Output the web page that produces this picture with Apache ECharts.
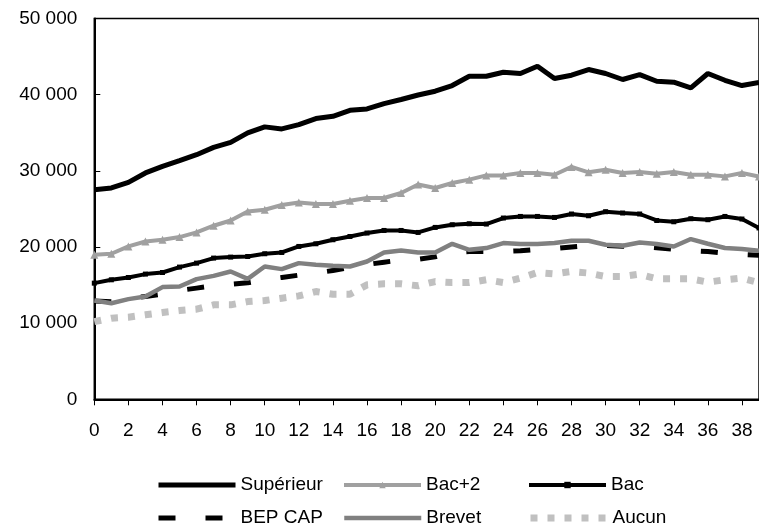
<!DOCTYPE html>
<html>
<head>
<meta charset="utf-8">
<script src="https://cdn.jsdelivr.net/npm/echarts@6/dist/echarts.min.js"></script>
<style>html,body{margin:0;padding:0;background:#fff;}#c{width:759px;height:531px;}</style>
</head>
<body>
<div id="c"></div>
<script>
var categories = ['0','1','2','3','4','5','6','7','8','9','10','11','12','13','14','15','16','17','18','19','20','21','22','23','24','25','26','27','28','29','30','31','32','33','34','35','36','37','38','39'];
var superieur = [27520,27750,28480,29720,30590,31340,32120,33080,33740,34980,35770,35500,36070,36860,37160,37950,38130,38830,39360,39950,40450,41200,42420,42420,42950,42780,43740,42120,42550,43300,42780,41990,42640,41760,41630,40890,42780,41890,41200,41600];
var bac2 = [18980,19110,20070,20720,20950,21300,21910,22790,23480,24670,24890,25510,25850,25640,25640,26080,26430,26430,27090,28200,27750,28400,28840,29400,29400,29720,29720,29490,30510,29800,30150,29720,29850,29630,29850,29490,29490,29270,29720,29250];
var bac = [15250,15690,15990,16440,16650,17360,17880,18540,18670,18750,19110,19280,20070,20420,20950,21380,21830,22170,22170,21910,22570,22920,23050,23010,23800,24010,24010,23880,24330,24100,24630,24460,24330,23480,23310,23710,23580,24010,23670,22500];
var bepcap = [12900,12800,13200,13500,13800,14300,14600,14900,15100,15300,15700,16000,16300,16600,16900,17300,17700,18000,18300,18400,18700,19300,19400,19400,19400,19500,19700,19800,20000,20200,20200,20100,20100,19900,19700,19500,19400,19200,19000,18900];
var brevet = [12970,12620,13150,13490,14730,14810,15780,16210,16780,15820,17440,17090,17880,17660,17530,17440,18090,19280,19540,19280,19280,20420,19630,19860,20510,20380,20380,20510,20820,20820,20290,20160,20590,20380,20070,21040,20420,19860,19720,19500];
var aucun = [10200,10650,10780,11090,11390,11650,11830,12400,12400,12830,12970,13280,13580,14150,13800,13800,15030,15160,15160,14900,15460,15330,15330,15690,15330,15910,16650,16470,16780,16570,16120,16120,16430,15820,15820,15820,15380,15690,15910,15300];
var yTicks = {min: 0, max: 50000, interval: 10000};

var FONT = 'Liberation Sans, Arial, sans-serif';
var chart = echarts.init(document.getElementById('c'), null, {renderer: 'canvas'});

function fmt(v){ return String(v).replace(/\B(?=(\d{3})+(?!\d))/g, ' '); }

function leg(name, left, top, lw, hideSymbol){
  var l = {
    data: [name], left: left, top: top, padding: 0, itemWidth: 77, itemHeight: 8,
    selectedMode: false,
    lineStyle: {width: lw},
    textStyle: {fontFamily: FONT, fontSize: 19, color: '#000', lineHeight: 20}
  };
  if (hideSymbol) l.itemStyle = {opacity: 0};
  return l;
}

var option = {
  animation: false,
  backgroundColor: '#fff',
  grid: {left: 94.3, top: 18.5, width: 668.5, height: 380.8, show: true, borderColor: '#000', borderWidth: 1.5, backgroundColor: 'transparent'},
  legend: [
    leg('Supérieur', 156, 475, 5, true), leg('Bac+2', 342, 475, 4, false), leg('Bac', 527, 475, 4, false),
    leg('BEP CAP', 156, 508, 5, true), leg('Brevet', 342, 508, 4.5, true), leg('Aucun', 527, 508, 7, true)
  ],
  xAxis: {
    type: 'category', data: categories, boundaryGap: false,
    axisLine: {lineStyle: {color: '#000', width: 2}},
    axisTick: {show: true, interval: 1, length: 6, lineStyle: {color: '#000', width: 1}},
    axisLabel: {interval: 1, color: '#000', fontFamily: FONT, fontSize: 19, margin: 22},
    splitLine: {show: false}
  },
  yAxis: {
    type: 'value', min: yTicks.min, max: yTicks.max, interval: yTicks.interval,
    axisLine: {show: true, lineStyle: {color: '#000', width: 2}},
    axisTick: {show: true, inside: true, length: 6, lineStyle: {color: '#000', width: 1}},
    axisLabel: {color: '#000', fontFamily: FONT, fontSize: 19, margin: 17, formatter: fmt},
    splitLine: {show: false}
  },
  series: [
    {name: 'BEP CAP', type: 'line', data: bepcap, symbol: 'none', z: 2,
     lineStyle: {color: '#000', width: 5, type: [17, 30]}, itemStyle: {color: '#000'}},
    {name: 'Aucun', type: 'line', data: aucun, symbol: 'none', z: 2,
     lineStyle: {color: '#c0c0c0', width: 7, type: [7, 10]}, itemStyle: {color: '#c0c0c0'}},
    {name: 'Brevet', type: 'line', data: brevet, symbol: 'none', z: 3,
     lineStyle: {color: '#808080', width: 4.5}, itemStyle: {color: '#808080'}},
    {name: 'Bac', type: 'line', data: bac, symbol: 'rect', symbolSize: 5, z: 3,
     lineStyle: {color: '#000', width: 4}, itemStyle: {color: '#000'}},
    {name: 'Bac+2', type: 'line', data: bac2, symbol: 'triangle', symbolSize: 8, z: 3,
     lineStyle: {color: '#a0a0a0', width: 4}, itemStyle: {color: '#a0a0a0'}},
    {name: 'Supérieur', type: 'line', data: superieur, symbol: 'none', z: 4,
     lineStyle: {color: '#000', width: 5}, itemStyle: {color: '#000'}}
  ]
};
chart.setOption(option);
</script>
</body>
</html>
